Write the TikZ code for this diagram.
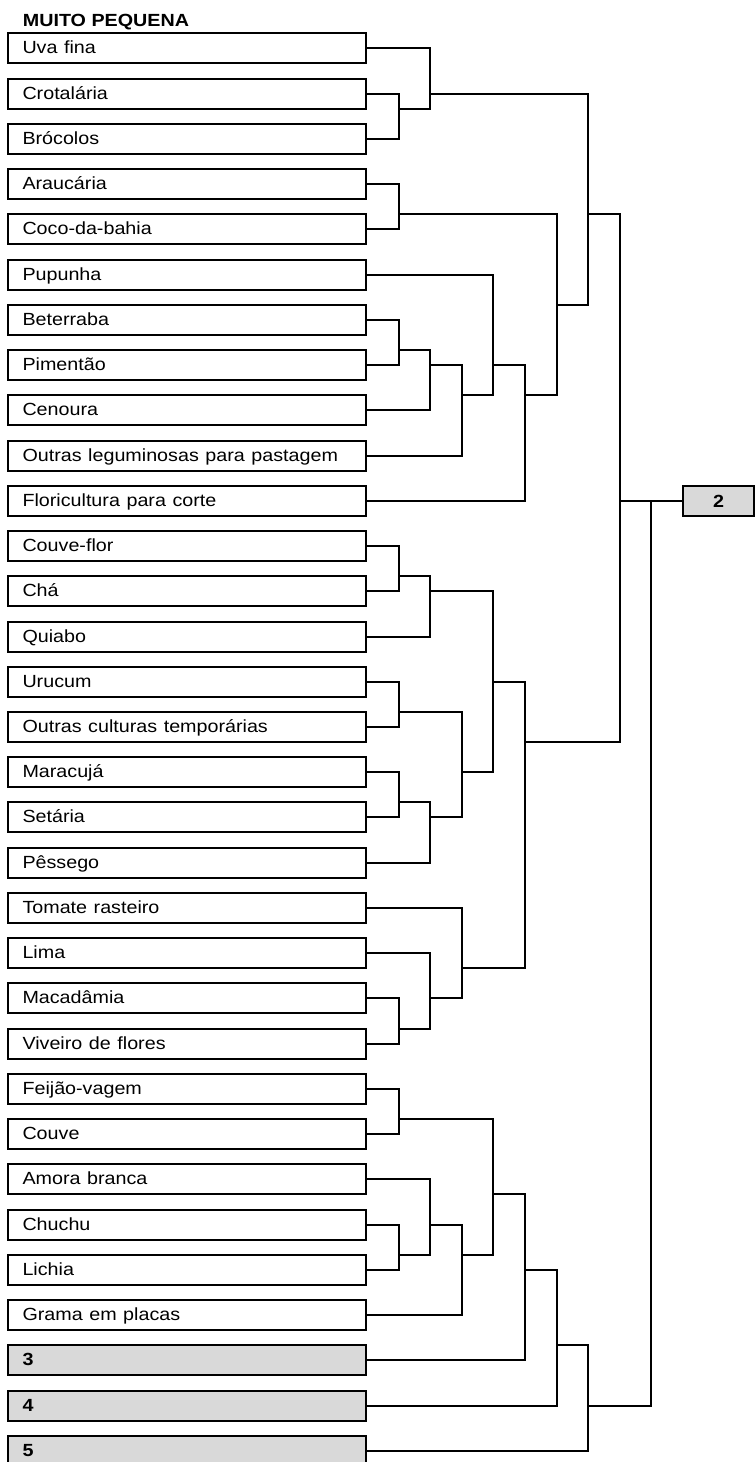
\documentclass[tikz,border=0pt]{standalone}
\usepackage{fontspec}
\setmainfont{Liberation Sans}
\usepackage{graphicx}
\definecolor{boxgray}{HTML}{D9D9D9}
% slightly widened lettering
\newcommand\hs[1]{\scalebox{1.12}[1]{#1}}
% join two branches at level #4, leaving the new branch at row #5
\newcommand\joinpair[5]{%
  \coordinate (#1) at ({round(367+31.6*#4)},{round(33.3+15.08*#5)});
  \draw[link] (#2) -| (#1);
  \draw[link] (#3) -| (#1);
}
\begin{document}
\begin{tikzpicture}[x=1pt,y=-1pt,
  leaf/.style={draw, line width=2pt, minimum height=30pt, text width=329pt,
    align=left, inner xsep=14.5pt, inner ysep=0pt, outer sep=0pt,
    text height=14.5pt, text depth=4.5pt, anchor=west,
    font=\fontsize{17.6}{20}\selectfont},
  grp/.style={leaf, fill=boxgray, font=\fontsize{17.6}{20}\selectfont\bfseries},
  link/.style={line width=2pt}]
\useasboundingbox (0,0) rectangle (755,1462);

\node[anchor=base west, inner sep=0pt, font=\fontsize{17.6}{20}\selectfont\bfseries]
  (title) at (22.7,26.7) {\hs{MUITO PEQUENA}};

% leaves
\foreach \t [count=\i from 0] in {Uva fina, Crotalária, Brócolos, Araucária,
  Coco-da-bahia, Pupunha, Beterraba, Pimentão, Cenoura,
  Outras leguminosas para pastagem, Floricultura para corte, Couve-flor, Chá,
  Quiabo, Urucum, Outras culturas temporárias, Maracujá, Setária, Pêssego,
  Tomate rasteiro, Lima, Macadâmia, Viveiro de flores, Feijão-vagem, Couve,
  Amora branca, Chuchu, Lichia, Grama em placas}
  \node[leaf] (b\i) at (8,{round(33.3+15.08*(3*\i+1))}) {\hs{\t}};
\foreach \t [count=\i from 29] in {3,4,5}
  \node[grp] (b\i) at (8,{round(33.3+15.08*(3*\i+1))}) {\hs{\t}};

% resulting group
\node[draw, fill=boxgray, line width=2pt, minimum width=71pt, minimum height=30pt,
  inner sep=0pt, outer sep=0pt, font=\fontsize{17.6}{20}\selectfont\bfseries]
  (top) at (718.5,{round(33.3+15.08*31)}) {\hs{2}};

% tree
\joinpair{j1}{b1.east}{b2.east}{1}{5}
\joinpair{j2}{b0.east}{j1}{2}{4}
\joinpair{j3}{b3.east}{b4.east}{1}{12}
\joinpair{j4}{b6.east}{b7.east}{1}{21}
\joinpair{j5}{j4}{b8.east}{2}{22}
\joinpair{j6}{j5}{b9.east}{3}{24}
\joinpair{j7}{b5.east}{j6}{4}{22}
\joinpair{j8}{j7}{b10.east}{5}{24}
\joinpair{j9}{j3}{j8}{6}{18}
\joinpair{j10}{j2}{j9}{7}{12}
\joinpair{j11}{b11.east}{b12.east}{1}{36}
\joinpair{j12}{j11}{b13.east}{2}{37}
\joinpair{j13}{b14.east}{b15.east}{1}{45}
\joinpair{j14}{b16.east}{b17.east}{1}{51}
\joinpair{j15}{j14}{b18.east}{2}{52}
\joinpair{j16}{j13}{j15}{3}{49}
\joinpair{j17}{j12}{j16}{4}{43}
\joinpair{j18}{b21.east}{b22.east}{1}{66}
\joinpair{j19}{b20.east}{j18}{2}{64}
\joinpair{j20}{b19.east}{j19}{3}{62}
\joinpair{j21}{j17}{j20}{5}{47}
\joinpair{j22}{j10}{j21}{8}{31}
\joinpair{j23}{b23.east}{b24.east}{1}{72}
\joinpair{j24}{b26.east}{b27.east}{1}{81}
\joinpair{j25}{b25.east}{j24}{2}{79}
\joinpair{j26}{j25}{b28.east}{3}{81}
\joinpair{j27}{j23}{j26}{4}{77}
\joinpair{j28}{j27}{b29.east}{5}{82}
\joinpair{j29}{j28}{b30.east}{6}{87}
\joinpair{j30}{j29}{b31.east}{7}{91}
\joinpair{j31}{j22}{j30}{9}{31}
\draw[link] (j31) -- (top.west);
\end{tikzpicture}
\end{document}
